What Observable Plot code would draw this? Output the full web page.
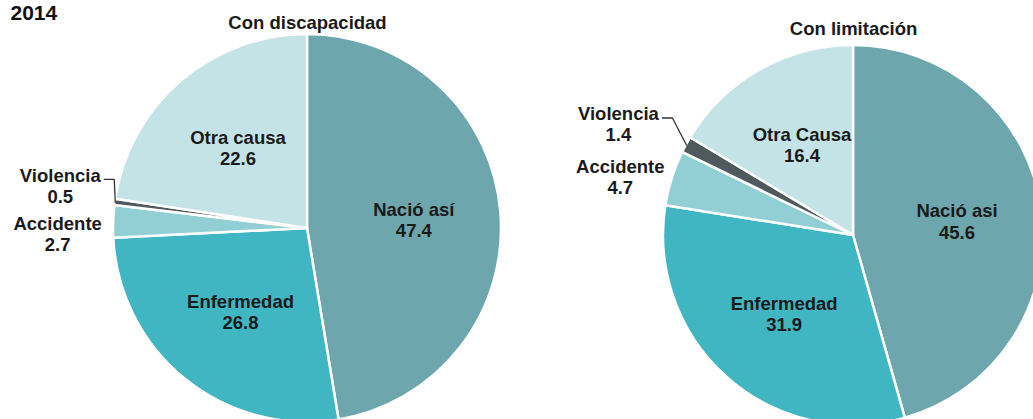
<!DOCTYPE html>
<html>
<head>
<meta charset="utf-8">
<script src="https://cdn.jsdelivr.net/npm/d3@7"></script>
<script src="https://cdn.jsdelivr.net/npm/@observablehq/plot@0.6"></script>
<style>
  html, body { margin: 0; padding: 0; background: #fff; }
  #chart svg { display: block; }
</style>
</head>
<body>
<div id="chart"></div>
<script>
// ---- data ----
const yearLabel = "2014";
const pieTitles = ["Con discapacidad", "Con limitación"];
const categories = ["Nació así", "Enfermedad", "Accidente", "Violencia", "Otra causa"];
const namesDiscapacidad = ["Nació así", "Enfermedad", "Accidente", "Violencia", "Otra causa"];
const namesLimitacion = ["Nació asi", "Enfermedad", "Accidente", "Violencia", "Otra Causa"];
const valuesDiscapacidad = [47.4, 26.8, 2.7, 0.5, 22.6];
const valuesLimitacion = [45.6, 31.9, 4.7, 1.4, 16.4];
const sliceColors = ["#6ea6ad", "#3fb6c1", "#92cfd4", "#4f5a5e", "#c4e3e6"];

// ---- layout (positions / styles) ----
const W = 1033, H = 419;
const FONT = "Liberation Sans, Arial, Helvetica, sans-serif";
const FS = 18.5;
const layout = [
  {cx: 307, cy: 228, r: 194, titleY: 28,
   outer: {"Accidente": {dx: -56, dy: 12}, "Violencia": {dx: -55, dy: -17}}},
  {cx: 853, cy: 235, r: 190, titleY: 34,
   outer: {"Accidente": {dx: -52, dy: -2}, "Violencia": {dx: -68, dy: -21}}}
];

const colorScale = Plot.scale({color: {type: "ordinal", domain: categories, range: sliceColors}});

function slicesFor(k, values, names) {
  const L = layout[k];
  const arcs = d3.pie().sort(null).value(d => d)(values);
  const mid = d3.arc().innerRadius(L.r * 0.55).outerRadius(L.r * 0.55);
  const edge = d3.arc().innerRadius(L.r).outerRadius(L.r);
  return arcs.map((a, i) => {
    const cat = categories[i];
    const [mx, my] = mid.centroid(a);
    const [ex, ey] = edge.centroid(a);
    const o = L.outer[cat];
    return {
      k, cat, name: names[i], value: values[i], arc: a,
      lx: o ? L.cx + ex + o.dx : L.cx + mx,
      ly: o ? L.cy + ey + o.dy : L.cy + my,
      ex: L.cx + ex, ey: L.cy + ey
    };
  });
}

const pies = [
  slicesFor(0, valuesDiscapacidad, namesDiscapacidad),
  slicesFor(1, valuesLimitacion, namesLimitacion)
];
const allSlices = pies.flat();

function pieMark(slices) {
  return (index, scales) => {
    const L = layout[slices[0].k];
    const cx = scales.x(L.cx), cy = scales.y(L.cy);
    const rr = scales.x(L.cx + L.r) - cx;
    const arc = d3.arc().innerRadius(0).outerRadius(rr);
    const g = d3.create("svg:g").attr("transform", `translate(${cx},${cy})`);
    g.selectAll("path").data(slices).join("path")
      .attr("d", d => arc(d.arc))
      .attr("fill", d => colorScale.apply(d.cat))
      .attr("stroke", "#fff")
      .attr("stroke-width", 2.5)
      .attr("stroke-linejoin", "round");
    return g.node();
  };
}

// leader lines for Violencia
const leaders = allSlices.filter(d => d.cat === "Violencia").flatMap(d => {
  const sx = d.lx + 44, sy = d.ly - 6;
  return [
    {k: d.k, x: sx, y: sy},
    {k: d.k, x: sx + 10, y: sy},
    {k: d.k, x: d.ex, y: d.ey}
  ];
});

const titles = pieTitles.map((t, i) => ({t, x: layout[i].cx, y: layout[i].titleY}));

const chart = Plot.plot({
  width: W,
  height: H,
  margin: 0,
  x: {domain: [0, W], range: [0, W], axis: null},
  y: {domain: [0, H], range: [0, H], axis: null},
  marks: [
    pieMark(pies[0]),
    pieMark(pies[1]),
    Plot.line(leaders, {x: "x", y: "y", z: "k", stroke: "#333", strokeWidth: 1.3, curve: "linear"}),
    Plot.text(allSlices, {
      x: "lx", y: "ly",
      text: d => d.name + "\n" + d.value.toFixed(1),
      lineHeight: 1.15,
      fontSize: FS, fontWeight: "bold", fontFamily: FONT,
      fill: "#1a1a1a", textAnchor: "middle", lineAnchor: "middle"
    }),
    Plot.text(titles, {
      x: "x", y: "y", text: "t",
      fontSize: FS, fontWeight: "bold", fontFamily: FONT,
      fill: "#1a1a1a", textAnchor: "middle", lineAnchor: "bottom"
    }),
    Plot.text([yearLabel], {
      frameAnchor: "top-left", dx: 10, dy: 19,
      fontSize: 21, fontWeight: "bold", fontFamily: FONT,
      fill: "#111", textAnchor: "start", lineAnchor: "bottom"
    })
  ]
});

document.getElementById("chart").appendChild(chart);
</script>
</body>
</html>
